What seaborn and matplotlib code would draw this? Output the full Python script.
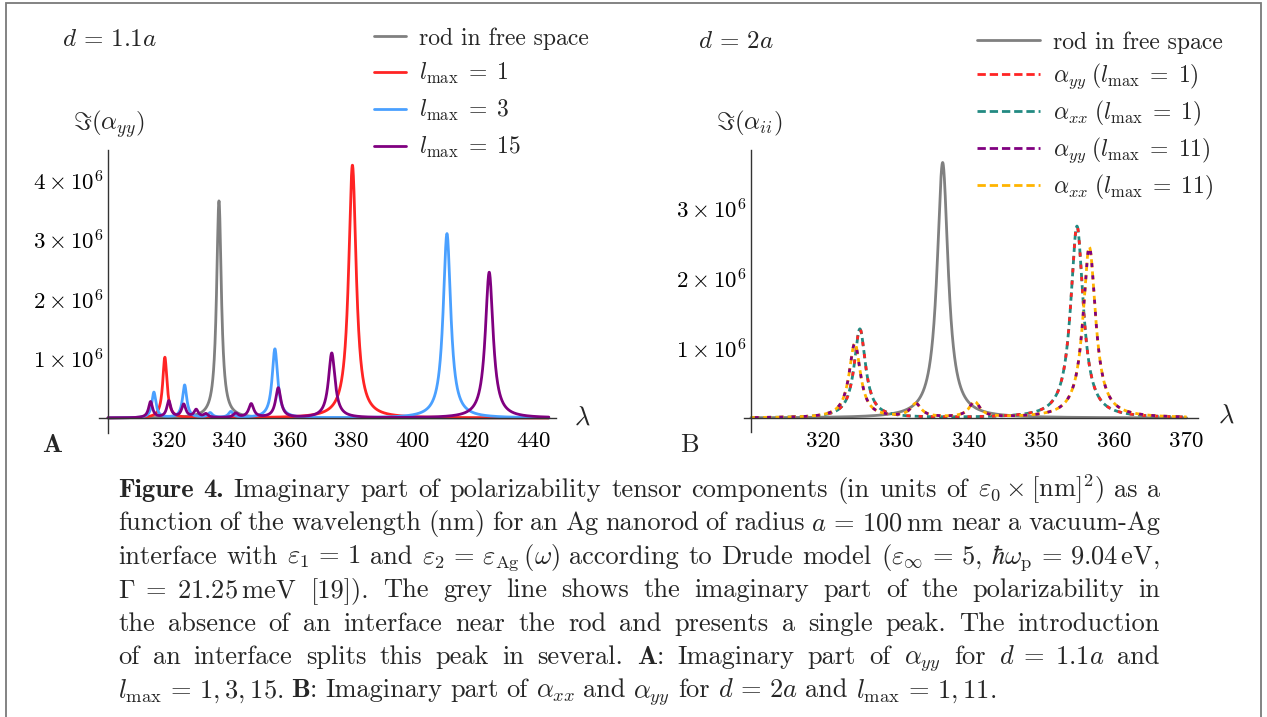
import numpy as np
import pandas as pd
import matplotlib
matplotlib.use("Agg")
import matplotlib.pyplot as plt
import seaborn as sns
from matplotlib.lines import Line2D
from matplotlib.ticker import FixedLocator, MultipleLocator
from matplotlib.patches import Rectangle

# ---------------- data (peak positions nm, heights, half-widths nm)
# Panel A  (d = 1.1a, Im(alpha_yy))
A_free_center = [336.5]
A_free_height = [3.65e6]
A_free_hwhm = [0.95]

A_l1_center = [318.7, 380.4]
A_l1_height = [1.02e6, 4.25e6]
A_l1_hwhm = [0.85, 1.5]

A_l3_center = [315.1, 325.2, 333.6, 340.4, 354.9, 411.5]
A_l3_height = [0.43e6, 0.55e6, 0.08e6, 0.10e6, 1.16e6, 3.10e6]
A_l3_hwhm = [0.8, 0.85, 0.9, 0.9, 1.1, 1.5]

A_l15_center = [314.0, 320.0, 324.9, 329.0, 332.2, 342.0, 347.1, 356.0, 373.6, 425.4]
A_l15_height = [0.27e6, 0.28e6, 0.22e6, 0.13e6, 0.06e6, 0.07e6, 0.23e6, 0.50e6, 1.09e6, 2.45e6]
A_l15_hwhm = [0.8, 0.8, 0.85, 0.85, 0.9, 0.95, 1.0, 1.05, 1.3, 1.55]

# Panel B  (d = 2a, Im(alpha_ii))
B_free_center = [336.4]
B_free_height = [3.65e6]
B_free_hwhm = [0.92]

B_l1_center = [325.0, 354.9]
B_l1_height = [1.27e6, 2.74e6]
B_l1_hwhm = [0.95, 1.05]

B_l11_center = [324.3, 332.7, 340.8, 356.6]
B_l11_height = [1.06e6, 0.19e6, 0.22e6, 2.44e6]
B_l11_hwhm = [0.95, 0.9, 0.9, 1.05]

A_xticks = [320, 340, 360, 380, 400, 420, 440]
B_xticks = [320, 330, 340, 350, 360, 370]
A_yticks = [1e6, 2e6, 3e6, 4e6]
B_yticks = [1e6, 2e6, 3e6]

A_labels = ["rod in free space", r"$l_{\mathrm{max}}\;=\;1$", r"$l_{\mathrm{max}}\;=\;3$",
            r"$l_{\mathrm{max}}\;=\;15$"]
B_labels = ["rod in free space", r"$\alpha_{yy}\;(l_{\mathrm{max}}\;=\;1)$", r"$\alpha_{xx}\;(l_{\mathrm{max}}\;=\;1)$",
            r"$\alpha_{yy}\;(l_{\mathrm{max}}\;=\;11)$", r"$\alpha_{xx}\;(l_{\mathrm{max}}\;=\;11)$"]

# tokens starting with "§" are set in bold roman
caption_lines = [
    r"§Figure §4. Imaginary part of polarizability tensor components (in units of $\varepsilon_0\times[\mathrm{nm}]^2$) as a",
    r"function of the wavelength (nm) for an Ag nanorod of radius $a\,=\,100\,\mathrm{nm}$ near a vacuum-Ag",
    r"interface with $\varepsilon_1\,=\,1$ and $\varepsilon_2\,=\,\varepsilon_{\mathrm{Ag}}\,(\omega)$ according to Drude model ($\varepsilon_\infty\,=\,5$, $\hbar\omega_{\mathrm{p}}\,=\,9.04\,\mathrm{eV}$,",
    r"$\Gamma\;=\;21.25\,\mathrm{meV}$ [19]). The grey line shows the imaginary part of the polarizability in",
    r"the absence of an interface near the rod and presents a single peak. The introduction",
    r"of an interface splits this peak in several. $\mathbf{A}$: Imaginary part of $\alpha_{yy}$ for $d\;=\;1.1a$ and",
    r"$l_{\mathrm{max}}\,=\,1,3,15.$ $\mathbf{B}$: Imaginary part of $\alpha_{xx}$ and $\alpha_{yy}$ for $d\,=\,2a$ and $l_{\mathrm{max}}\,=\,1,11.$",
]

# ---------------- style
sns.set_style("white")
plt.rcParams["font.family"] = ["cmr10", "DejaVu Serif"]
plt.rcParams["mathtext.fontset"] = "cm"
plt.rcParams["axes.unicode_minus"] = False
plt.rcParams["axes.formatter.use_mathtext"] = True

W, H = 1267, 717
fig = plt.figure(figsize=(W / 100, H / 100), dpi=100)
fig.patch.set_facecolor("white")


def P(x, y):
    return x / W, 1 - y / H


def spectrum(wl, centers, heights, hwhm):
    y = np.zeros_like(wl)
    for c, h, w in zip(centers, heights, hwhm):
        y += h / (1 + ((wl - c) / w) ** 2)
    return pd.DataFrame({"wl": wl, "val": y})


wlA = np.linspace(300, 445, 3001)
wlB = np.linspace(310, 370, 3001)

GRAY = "#808080"
RED = "#ff2424"
BLUE = "#4aa0ff"
PURPLE = "#800080"
TEAL = "#238a82"
ORANGE = "#ffb400"
AX = "#333333"
LW = 2.0

# ---------------- panel A
axA = fig.add_axes([98.9 / W, (H - 432.9) / H, 457.5 / W, 282.6 / H])
for cen, hei, hw, col in [
    (A_free_center, A_free_height, A_free_hwhm, GRAY),
    (A_l1_center, A_l1_height, A_l1_hwhm, RED),
    (A_l3_center, A_l3_height, A_l3_hwhm, BLUE),
    (A_l15_center, A_l15_height, A_l15_hwhm, PURPLE),
]:
    sns.lineplot(data=spectrum(wlA, cen, hei, hw), x="wl", y="val", ax=axA, color=col,
                 lw=LW, estimator=None, sort=False, legend=False)
axA.set_xlim(297, 447.5)
axA.set_ylim(-0.25e6, 4.5e6)

# ---------------- panel B
axB = fig.add_axes([743.7 / W, (H - 432.0) / H, 453.8 / W, 282.1 / H])
dfB_free = spectrum(wlB, B_free_center, B_free_height, B_free_hwhm)
dfB_l1 = spectrum(wlB, B_l1_center, B_l1_height, B_l1_hwhm)
dfB_l11 = spectrum(wlB, B_l11_center, B_l11_height, B_l11_hwhm)
sns.lineplot(data=dfB_free, x="wl", y="val", ax=axB, color=GRAY, lw=LW, estimator=None, sort=False)
D_ON, D_OFF = 3.0, 1.4
sns.lineplot(data=dfB_l1, x="wl", y="val", ax=axB, color=TEAL, lw=LW, estimator=None, sort=False,
             linestyle=(0, (D_ON, D_OFF)))
sns.lineplot(data=dfB_l1, x="wl", y="val", ax=axB, color=RED, lw=LW, estimator=None, sort=False,
             linestyle=(D_ON, (D_OFF, D_ON)))
sns.lineplot(data=dfB_l11, x="wl", y="val", ax=axB, color=ORANGE, lw=LW, estimator=None, sort=False,
             linestyle=(0, (D_ON, D_OFF)))
sns.lineplot(data=dfB_l11, x="wl", y="val", ax=axB, color=PURPLE, lw=LW, estimator=None, sort=False,
             linestyle=(D_ON, (D_OFF, D_ON)))
axB.set_xlim(309, 371.5)
axB.set_ylim(-0.2e6, 3.83e6)

# ---------------- axes styling (Mathematica-like crossing axes)
for ax, x0, xt, xminor, yt in [(axA, 300, A_xticks, 5, A_yticks), (axB, 310, B_xticks, 2, B_yticks)]:
    ax.set_facecolor("none")
    ax.set_xlabel("")
    ax.set_ylabel("")
    for s in ["top", "right"]:
        ax.spines[s].set_visible(False)
    ax.spines["left"].set_position(("data", x0))
    ax.spines["bottom"].set_position(("data", 0))
    for s in ["left", "bottom"]:
        ax.spines[s].set_color(AX)
        ax.spines[s].set_linewidth(1.0)
    ax.xaxis.set_major_locator(FixedLocator(xt))
    ax.set_xticklabels([str(v) for v in xt])
    ax.xaxis.set_minor_locator(MultipleLocator(xminor))
    ax.yaxis.set_major_locator(FixedLocator(yt))
    ax.set_yticklabels([r"$%d\times10^{6}$" % round(v / 1e6) for v in yt])
    ax.yaxis.set_minor_locator(MultipleLocator(0.2e6))
    ax.tick_params(which="major", direction="in", length=5.5, width=0.8, color=AX, labelsize=16.5,
                   labelcolor="black")
    ax.tick_params(which="minor", direction="in", length=3, width=0.7, color=AX)
    ax.tick_params(axis="x", which="major", pad=10)
    ax.tick_params(axis="y", which="major", pad=3)
    ax.grid(False)

# ---------------- legends
hA = [Line2D([], [], color=c, lw=LW) for c in [GRAY, RED, BLUE, PURPLE]]
legA = fig.legend(hA, A_labels, loc="upper left", bbox_to_anchor=P(374, 27), bbox_transform=fig.transFigure,
                  frameon=False, fontsize=17, handlelength=1.35, handletextpad=0.55, labelspacing=0.5,
                  borderpad=0, borderaxespad=0)
hB = [Line2D([], [], color=GRAY, lw=LW)] + [
    Line2D([], [], color=c, lw=LW, linestyle=(0, (D_ON, D_OFF))) for c in [RED, TEAL, PURPLE, ORANGE]]
legB = fig.legend(hB, B_labels, loc="upper left", bbox_to_anchor=P(977, 31), bbox_transform=fig.transFigure,
                  frameon=False, fontsize=17, handlelength=2.65, handletextpad=0.55, labelspacing=0.33,
                  borderpad=0, borderaxespad=0)

# ---------------- annotations
fig.text(*P(109, 124), r"$\Im(\alpha_{yy})$", fontsize=18, ha="center", va="center")
fig.text(*P(749, 123), r"$\Im(\alpha_{ii})$", fontsize=18, ha="center", va="center")
fig.text(*P(110, 40), r"$d\,=\,1.1a$", fontsize=18, ha="center", va="center")
fig.text(*P(736, 42), r"$d\,=\,2a$", fontsize=18, ha="center", va="center")
fig.text(*P(582, 418), r"$\lambda$", fontsize=19, ha="center", va="center")
fig.text(*P(1226, 416), r"$\lambda$", fontsize=19, ha="center", va="center")
fig.text(*P(52, 445), "A", fontsize=19, ha="center", va="center", fontfamily="cmb10")
fig.text(*P(689, 445), "B", fontsize=19, ha="center", va="center")

# ---------------- caption (justified)
renderer = fig.canvas.get_renderer()


def tokens(s):
    out, cur, inmath = [], "", False
    for ch in s:
        if ch == "$":
            inmath = not inmath
            cur += ch
        elif ch == " " and not inmath:
            if cur:
                out.append(cur)
            cur = ""
        else:
            cur += ch
    if cur:
        out.append(cur)
    return out


def make_words(words, fs):
    ts = []
    for w in words:
        if w.startswith("§"):
            ts.append(fig.text(0, 0, w[1:], fontsize=fs, ha="left", va="baseline", fontfamily="cmb10"))
        else:
            ts.append(fig.text(0, 0, w, fontsize=fs, ha="left", va="baseline"))
    return ts


# size the caption font from the natural width of the last (unjustified) line
REF_LAST_WIDTH = 857.0
probe_fs = 15.0
probe = make_words(tokens(caption_lines[-1]), probe_fs)
pw = sum(t.get_window_extent(renderer).width for t in probe) + (len(probe) - 1) * probe_fs * 100 / 72 * 0.36
for t in probe:
    t.remove()
CAP_FS = probe_fs * REF_LAST_WIDTH / pw * 1.05

X0, X1 = 118, 1160
for i, line in enumerate(caption_lines):
    yb = 497 + i * 33.4
    words = tokens(line)
    ts = make_words(words, CAP_FS)
    widths = [t.get_window_extent(renderer).width for t in ts]
    if i == len(caption_lines) - 1:
        gap = CAP_FS * 100 / 72 * 0.30
    else:
        gap = max((X1 - X0 - sum(widths)) / (len(words) - 1), CAP_FS * 100 / 72 * 0.2)
    x = X0
    for t, w in zip(ts, widths):
        t.set_position((x / W, 1 - yb / H))
        x += w + gap

# ---------------- frame around the whole figure
fig.add_artist(Rectangle((6 / W, -0.05), (1261 - 6) / W, 1 - 3 / H + 0.05, transform=fig.transFigure,
                         fill=False, edgecolor="#7a7a7a", lw=1.3, clip_on=False))

fig.savefig("out.png", dpi=100, facecolor="white")
